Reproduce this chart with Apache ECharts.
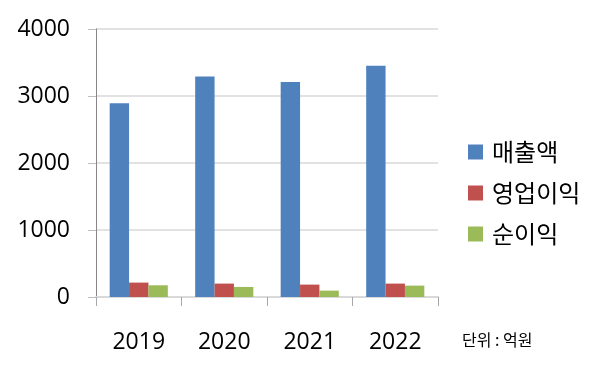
<!DOCTYPE html>
<html><head><meta charset="utf-8">
<script src="https://cdn.jsdelivr.net/npm/echarts@6/dist/echarts.min.js"></script>
<style>html,body{margin:0;padding:0;background:#fff}#c{width:600px;height:381px}</style>
</head><body><div id="c"></div>
<script>
const categories = ['2019', '2020', '2021', '2022'];
const seriesNames = ['매출액', '영업이익', '순이익'];
const revenue = [2890, 3290, 3210, 3450];
const operatingProfit = [215, 200, 185, 200];
const netProfit = [175, 150, 95, 170];
const yTicks = [0, 1000, 2000, 3000, 4000];
const unitLabel = '단위 : 억원';

const FONT = '"Open Sans", "Noto Sans CJK KR", sans-serif';
const KFONT = '"Noto Sans CJK KR", sans-serif';
const colors = ['#4f81bd', '#c0504d', '#9bbb59'];
const values = [revenue, operatingProfit, netProfit];

const chart = echarts.init(document.getElementById('c'));
chart.setOption({
  animation: false,
  backgroundColor: '#fff',
  textStyle: { fontFamily: FONT },
  grid: { left: 96, right: 162, top: 29, bottom: 84 },
  legend: {
    orient: 'vertical', left: 463, top: 135,
    itemWidth: 15, itemHeight: 15, itemGap: 17,
    icon: 'rect',
    textStyle: { fontSize: 24, color: '#000', fontFamily: KFONT, padding: [0, 0, 0, 4] },
    data: seriesNames
  },
  graphic: [{
    type: 'text', left: 462, top: 332,
    style: { text: unitLabel, fontSize: 16, fill: '#000', fontFamily: KFONT }
  }],
  xAxis: {
    type: 'category', data: categories,
    axisLine: { lineStyle: { color: '#d9d9d9', width: 2 } },
    axisTick: { show: true, length: 9, interval: 0, lineStyle: { color: '#a6a6a6' } },
    axisLabel: { fontSize: 23, color: '#000', margin: 34, fontFamily: FONT }
  },
  yAxis: {
    type: 'value', min: yTicks[0], max: yTicks[yTicks.length - 1], interval: 1000,
    axisLine: { show: true, lineStyle: { color: '#868686', width: 1 } },
    axisTick: { show: true, length: 8, lineStyle: { color: '#bfbfbf' } },
    splitLine: { lineStyle: { color: '#d9d9d9', width: 1.5 } },
    axisLabel: { fontSize: 23, color: '#000', margin: 26, fontFamily: FONT, formatter: v => String(v) }
  },
  series: seriesNames.map((n, i) => ({
    name: n, type: 'bar', data: values[i],
    barGap: '0%', barCategoryGap: '32%',
    itemStyle: { color: colors[i] }
  }))
});
</script></body></html>
